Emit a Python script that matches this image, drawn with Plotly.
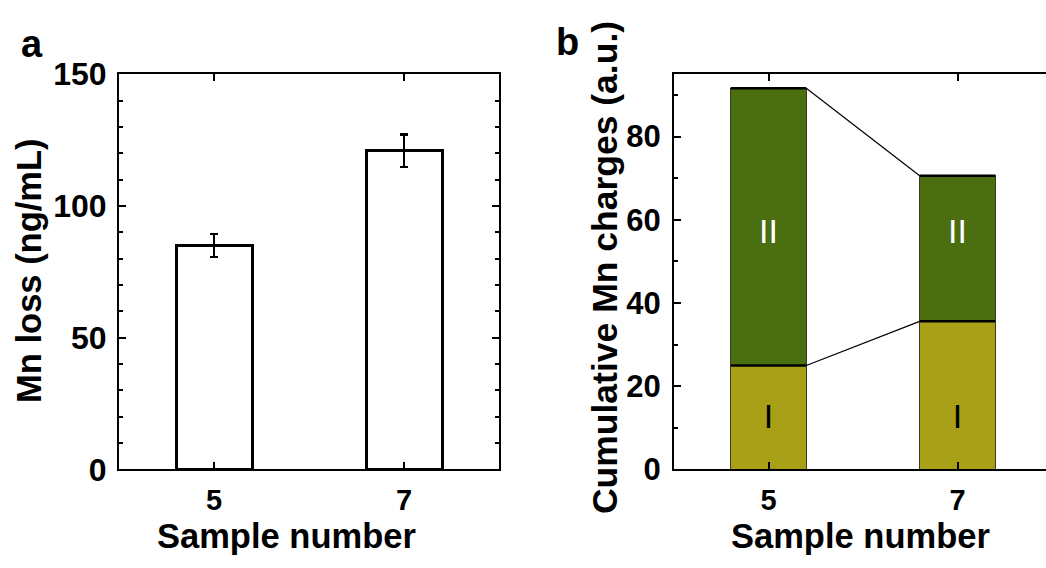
import plotly.graph_objects as go

# Panel a: Mn loss per sample
samples = [5, 7]
mn_loss = [85.0, 121.0]
mn_loss_err = [4.3, 6.2]

# Panel b: cumulative Mn charges, split into stage I and stage II
charge_I = [25.0, 35.6]
charge_II = [66.6, 35.0]
segment_labels = ["I", "II"]

W, H = 1046, 568
BAR_W = 0.8
FONT = "Liberation Sans, Arial, sans-serif"


def px(x):
    return x / W


def py(y):
    return 1 - y / H


totals = [a + b for a, b in zip(charge_I, charge_II)]

fig = go.Figure()

# ---- panel a ----
fig.add_trace(go.Bar(
    x=samples, y=mn_loss, width=BAR_W,
    marker=dict(color="white", line=dict(color="black", width=3)),
    error_y=dict(type="data", array=mn_loss_err, color="black",
                 thickness=2.5, width=4),
    xaxis="x", yaxis="y", showlegend=False,
))

# ---- panel b ----
fig.add_trace(go.Bar(
    x=samples, y=charge_I, width=BAR_W,
    marker=dict(color="#A8A016", line=dict(color="#3c3c20", width=1)),
    xaxis="x2", yaxis="y2", showlegend=False,
))
fig.add_trace(go.Bar(
    x=samples, y=charge_II, width=BAR_W,
    marker=dict(color="#4A6E10", line=dict(color="#3c3c20", width=1)),
    xaxis="x2", yaxis="y2", showlegend=False,
))

# heavier black edge along the top of every stacked segment
edge_x, edge_y = [], []
for s, lo, tot in zip(samples, charge_I, totals):
    for level in (lo, tot):
        edge_x += [s - BAR_W / 2, s + BAR_W / 2, None]
        edge_y += [level, level, None]
fig.add_trace(go.Scatter(
    x=edge_x, y=edge_y, mode="lines",
    line=dict(color="black", width=2.5),
    xaxis="x2", yaxis="y2", showlegend=False, hoverinfo="skip",
))

# connector lines between the two stacks
for series in (totals, charge_I):
    fig.add_trace(go.Scatter(
        x=[samples[0] + BAR_W / 2, samples[1] - BAR_W / 2],
        y=series, mode="lines",
        line=dict(color="black", width=1.2),
        xaxis="x2", yaxis="y2", showlegend=False, hoverinfo="skip",
    ))

# segment labels inside the bars
fig.add_trace(go.Scatter(
    x=samples, y=[12, 12], mode="text", text=[segment_labels[0]] * 2,
    textfont=dict(family=FONT, size=34, color="black"),
    xaxis="x2", yaxis="y2", showlegend=False, hoverinfo="skip",
))
fig.add_trace(go.Scatter(
    x=samples, y=[56.5, 56.5], mode="text", text=[segment_labels[1]] * 2,
    textfont=dict(family=FONT, size=34, color="white"),
    xaxis="x2", yaxis="y2", showlegend=False, hoverinfo="skip",
))


def tfont(size):
    return dict(family=FONT, size=size, color="black", weight="bold")


common_axis = dict(
    showline=True, linecolor="black", linewidth=2,
    ticks="inside", tickcolor="black", tickwidth=2, ticklen=7,
    showgrid=False, zeroline=False,
)
minor_ticks = dict(ticks="inside", ticklen=4, tickwidth=1.5, tickcolor="black")

y_dom = [py(482), py(60)]

fig.update_layout(
    width=W, height=H,
    margin=dict(l=0, r=0, t=0, b=0),
    paper_bgcolor="white", plot_bgcolor="white",
    barmode="stack",
    xaxis=dict(domain=[px(119), px(499)], range=[4, 8],
               tickvals=samples, mirror="ticks", anchor="y",
               tickfont=tfont(29), ticklabelstandoff=4, **common_axis),
    yaxis=dict(domain=y_dom, range=[0, 150], tickvals=[0, 50, 100, 150],
               mirror="ticks", anchor="x", ticklabelstandoff=4,
               tickfont=tfont(32),
               minor=dict(tickvals=list(range(0, 151, 10)), **minor_ticks),
               **common_axis),
    xaxis2=dict(domain=[px(674), 1.0], range=[4, 4 + 372 / 94.5],
                tickvals=samples, mirror="ticks", anchor="y2",
                tickfont=tfont(29), ticklabelstandoff=4, **common_axis),
    yaxis2=dict(domain=y_dom, range=[0, 95], tickvals=[0, 20, 40, 60, 80],
                mirror=False, anchor="x2", ticklabelstandoff=5,
                tickfont=tfont(31),
                minor=dict(tickvals=list(range(0, 91, 10)), **minor_ticks),
                **common_axis),
)

annotations = [
    dict(text="a", x=px(32), y=py(28), font=tfont(38)),
    dict(text="b", x=px(567), y=py(26), font=tfont(38)),
    dict(text="Sample number", x=px(286), y=py(553), font=tfont(34.5)),
    dict(text="Sample number", x=px(860), y=py(553), font=tfont(34.5)),
    dict(text="Mn loss (ng/mL)", x=px(29), y=py(270), textangle=-90,
         font=tfont(34.5)),
    dict(text="Cumulative Mn charges (a.u.)", x=px(605), y=py(267),
         textangle=-90, font=tfont(35.5)),
]
for a in annotations:
    a.update(xref="paper", yref="paper", showarrow=False,
             xanchor="center", yanchor="middle", borderpad=0)
fig.update_layout(annotations=annotations)

fig.write_html("out.html")
